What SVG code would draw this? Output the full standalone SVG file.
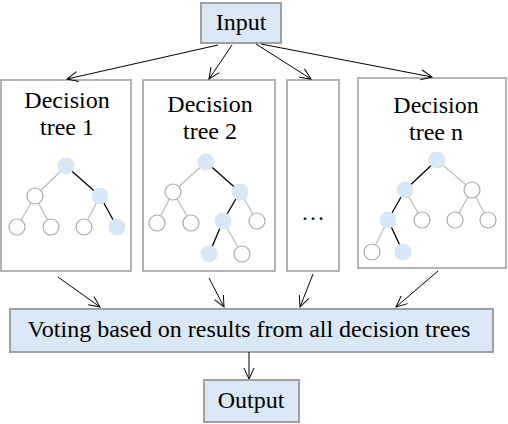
<svg xmlns="http://www.w3.org/2000/svg" width="508" height="424" viewBox="0 0 508 424">
<style>
.box{fill:#fff;stroke:#b3b3b3;stroke-width:2}
.blue{fill:#dae8f5;stroke:#a0a0a0;stroke-width:2}
.t{font-family:"Liberation Serif","Times New Roman",serif;font-size:24px;fill:#000;text-anchor:middle}
.e{stroke:#bdbdbd;stroke-width:1.3;fill:none}
.h{stroke:#000;stroke-width:1.3;fill:none}
.o{fill:#fff;stroke:#a8a8a8;stroke-width:1.2}
.f{fill:#d8e7f5;stroke:none}
.c{stroke:#000;stroke-width:1;fill:none}
</style>
<defs>
<marker id="ah" markerUnits="userSpaceOnUse" markerWidth="14" markerHeight="14" refX="12" refY="6" orient="auto" viewBox="0 0 14 12">
<path d="M1,1 L12,6 L1,11" fill="none" stroke="#000" stroke-width="1"/>
</marker>
</defs>

<g id="input">
<rect class="blue" x="201" y="3" width="80" height="40"/>
<text class="t" x="241" y="30">Input</text>
</g>

<g id="tree1">
<rect class="box" x="1" y="80" width="130" height="191"/>
<text class="t" x="67" y="108">Decision</text>
<text class="t" x="67" y="135">tree 1</text>
<line class="e" x1="66" y1="166" x2="35" y2="196"/>
<line class="h" x1="66" y1="166" x2="100" y2="196"/>
<line class="e" x1="35" y1="196" x2="17" y2="227"/>
<line class="e" x1="35" y1="196" x2="51" y2="227"/>
<line class="e" x1="100" y1="196" x2="84" y2="227"/>
<line class="h" x1="100" y1="196" x2="117" y2="227"/>
<circle class="f" cx="66" cy="166" r="8.5"/>
<circle class="o" cx="35" cy="196" r="8"/>
<circle class="f" cx="100" cy="196" r="8.5"/>
<circle class="o" cx="17" cy="227" r="8"/>
<circle class="o" cx="51" cy="227" r="8"/>
<circle class="o" cx="84" cy="227" r="8"/>
<circle class="f" cx="117" cy="227" r="8.5"/>
</g>

<g id="tree2">
<rect class="box" x="143" y="80" width="132" height="191"/>
<text class="t" x="210" y="112">Decision</text>
<text class="t" x="210" y="139">tree 2</text>
<line class="e" x1="206" y1="162" x2="173" y2="192"/>
<line class="h" x1="206" y1="162" x2="240" y2="192"/>
<line class="e" x1="173" y1="192" x2="157" y2="223"/>
<line class="e" x1="173" y1="192" x2="191" y2="223"/>
<line class="h" x1="240" y1="192" x2="223" y2="221"/>
<line class="e" x1="240" y1="192" x2="257" y2="221"/>
<line class="h" x1="223" y1="221" x2="209" y2="254"/>
<line class="e" x1="223" y1="221" x2="242" y2="254"/>
<circle class="f" cx="206" cy="162" r="8.5"/>
<circle class="o" cx="173" cy="192" r="8"/>
<circle class="f" cx="240" cy="192" r="8.5"/>
<circle class="o" cx="157" cy="223" r="8"/>
<circle class="o" cx="191" cy="223" r="8"/>
<circle class="f" cx="223" cy="221" r="8.5"/>
<circle class="o" cx="257" cy="221" r="8"/>
<circle class="f" cx="209" cy="254" r="8.5"/>
<circle class="o" cx="242" cy="254" r="8"/>
</g>

<g id="tree-dots">
<rect class="box" x="287" y="80" width="52" height="191"/>
<text class="t" x="313" y="220">…</text>
</g>

<g id="treen">
<rect class="box" x="358" y="78" width="148" height="190"/>
<text class="t" x="436" y="113">Decision</text>
<text class="t" x="436" y="140">tree n</text>
<line class="h" x1="437" y1="160" x2="405" y2="190"/>
<line class="e" x1="437" y1="160" x2="472" y2="190"/>
<line class="h" x1="405" y1="190" x2="388" y2="220"/>
<line class="e" x1="405" y1="190" x2="422" y2="220"/>
<line class="e" x1="472" y1="190" x2="455" y2="220"/>
<line class="e" x1="472" y1="190" x2="488" y2="220"/>
<line class="e" x1="388" y1="220" x2="372" y2="252"/>
<line class="h" x1="388" y1="220" x2="403" y2="252"/>
<circle class="f" cx="437" cy="160" r="8.5"/>
<circle class="f" cx="405" cy="190" r="8.5"/>
<circle class="o" cx="472" cy="190" r="8"/>
<circle class="f" cx="388" cy="220" r="8.5"/>
<circle class="o" cx="422" cy="220" r="8"/>
<circle class="o" cx="455" cy="220" r="8"/>
<circle class="o" cx="488" cy="220" r="8"/>
<circle class="o" cx="372" cy="252" r="8"/>
<circle class="f" cx="403" cy="252" r="8.5"/>
</g>

<g id="voting">
<rect class="blue" x="10" y="309" width="483" height="43"/>
<text class="t" x="249" y="337">Voting based on results from all decision trees</text>
</g>

<g id="output">
<rect class="blue" x="204" y="380" width="95" height="42"/>
<text class="t" x="251" y="408">Output</text>
</g>

<g id="connectors">
<line class="c" x1="218" y1="45" x2="67" y2="79" marker-end="url(#ah)"/>
<line class="c" x1="232" y1="45" x2="209" y2="79" marker-end="url(#ah)"/>
<line class="c" x1="256" y1="44" x2="311" y2="79" marker-end="url(#ah)"/>
<line class="c" x1="261" y1="44" x2="432" y2="77" marker-end="url(#ah)"/>
<line class="c" x1="58" y1="277" x2="100" y2="307" marker-end="url(#ah)"/>
<line class="c" x1="209" y1="278" x2="224" y2="307" marker-end="url(#ah)"/>
<line class="c" x1="313" y1="274" x2="300" y2="307" marker-end="url(#ah)"/>
<line class="c" x1="438" y1="271" x2="396" y2="307" marker-end="url(#ah)"/>
<line class="c" x1="249" y1="352" x2="249" y2="379" marker-end="url(#ah)"/>
</g>
</svg>
